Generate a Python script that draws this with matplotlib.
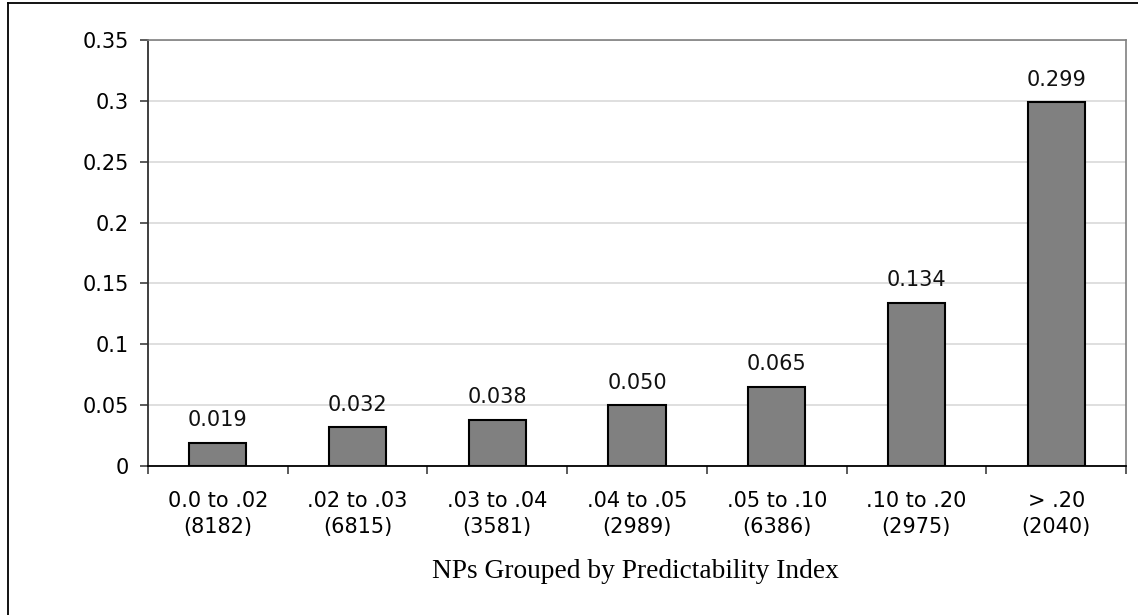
import numpy as np
import matplotlib
matplotlib.use('Agg')
import matplotlib.pyplot as plt
from matplotlib.lines import Line2D

# データ
categories = ['0.0 to .02', '.02 to .03', '.03 to .04', '.04 to .05',
              '.05 to .10', '.10 to .20', '> .20']
counts = [8182, 6815, 3581, 2989, 6386, 2975, 2040]
values = [0.019, 0.032, 0.038, 0.050, 0.065, 0.134, 0.299]
y_ticks = [0, 0.05, 0.1, 0.15, 0.2, 0.25, 0.3, 0.35]
y_ticklabels = ['0', '0.05', '0.1', '0.15', '0.2', '0.25', '0.3', '0.35']

plt.rcParams['font.family'] = 'DejaVu Sans'
FS = 15

W, H = 1138, 615
fig = plt.figure(figsize=(W / 100, H / 100), dpi=100)
ax = fig.add_axes([148 / W, 1 - 466 / H, (1126 - 148) / W, (466 - 40) / H])

x = np.arange(len(categories))
ax.bar(x, values, width=0.41, color='#808080', edgecolor='black', linewidth=1.5, zorder=3)

for xi, v in zip(x, values):
    ax.annotate(f'{v:.3f}', (xi, v), xytext=(0, 9), textcoords='offset points',
                ha='center', va='bottom', fontsize=FS, color='#111111')

ax.set_xlim(-0.5, len(categories) - 0.5)
ax.set_ylim(0, 0.35)
ax.set_yticks(y_ticks)
ax.set_yticklabels(y_ticklabels, fontsize=FS)

# カテゴリラベル（目盛りはカテゴリ境界）
ax.set_xticks(np.arange(len(categories) + 1) - 0.5)
ax.set_xticklabels([])
ax.set_xticks(x, minor=True)
ax.set_xticklabels([f'{c}\n({n})' for c, n in zip(categories, counts)],
                   minor=True, fontsize=FS, linespacing=1.4)
ax.tick_params(axis='x', which='minor', length=0, pad=18)
ax.tick_params(axis='x', which='major', length=6, width=1.2, color='#404040')
ax.tick_params(axis='y', length=6, width=1.2, color='#404040', pad=8)

ax.yaxis.grid(True, color='#d9d9d9', linewidth=1.2, zorder=0)
ax.set_axisbelow(True)

for side in ['top', 'right']:
    ax.spines[side].set_color('#808080')
    ax.spines[side].set_linewidth(1.2)
ax.spines['left'].set_color('#303030')
ax.spines['left'].set_linewidth(1.3)
ax.spines['bottom'].set_color('black')
ax.spines['bottom'].set_linewidth(1.3)

fig.text(635 / W, 1 - 572 / H, 'NPs Grouped by Predictability Index',
         family='Liberation Serif', fontsize=19.7, ha='center', va='center')

# 外枠
fig.add_artist(Line2D([8 / W, 8 / W], [0, 1 - 3 / H], color='black', linewidth=1.3))
fig.add_artist(Line2D([8 / W, 1], [1 - 3 / H, 1 - 3 / H], color='black', linewidth=1.3))

fig.savefig('out.png', dpi=100)
